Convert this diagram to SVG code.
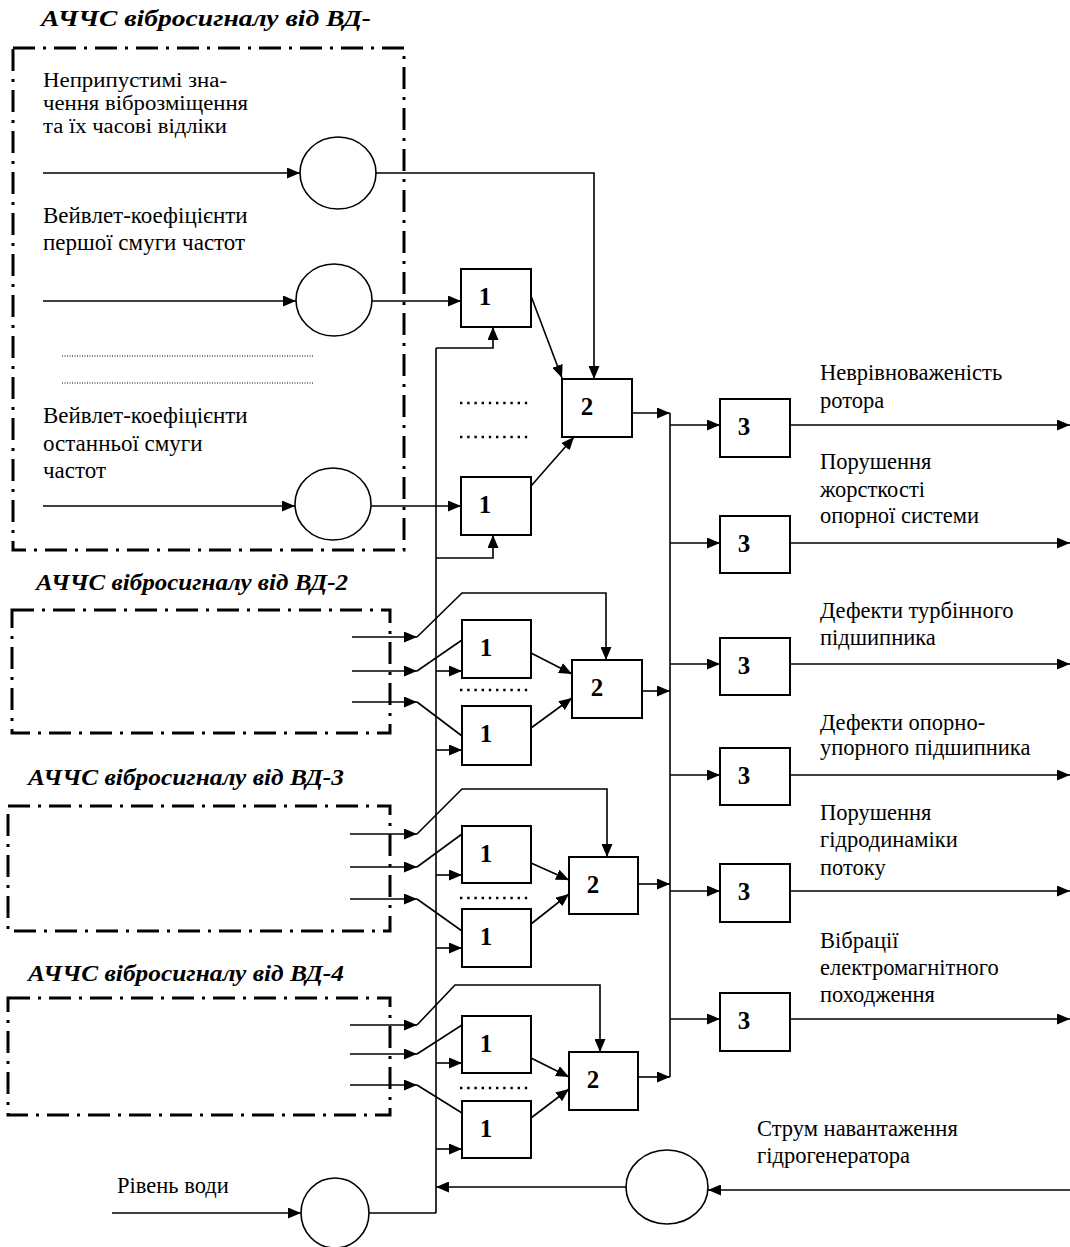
<svg xmlns="http://www.w3.org/2000/svg" width="1070" height="1247" viewBox="0 0 1070 1247">
<style>
.bg{fill:#fff}
.grp{fill:none;stroke:#000;stroke-width:3;stroke-dasharray:22 8 3 8}
.box{fill:#fff;stroke:#000;stroke-width:2}
.circ{fill:#fff;stroke:#000;stroke-width:1.6}
.ln{fill:none;stroke:#000;stroke-width:1.6}
.ar{marker-end:url(#ah)}
.fine{fill:none;stroke:#000;stroke-width:1;stroke-dasharray:1 1.5}
.dots{fill:none;stroke:#000;stroke-width:2.4;stroke-dasharray:2.4 4.8}
.ts{font-family:"Liberation Serif","Times New Roman",serif;font-size:20.8px;fill:#000}
.t{font-family:"Liberation Serif","Times New Roman",serif;font-size:23px;fill:#000}
.tr{font-family:"Liberation Serif","Times New Roman",serif;font-size:22.5px;fill:#000}
.ti{font-family:"Liberation Serif","Times New Roman",serif;font-size:24px;font-weight:bold;font-style:italic;fill:#000}
.num{font-family:"Liberation Serif","Times New Roman",serif;font-size:25px;font-weight:bold;fill:#000;text-anchor:middle}
</style>
<defs>
<marker id="ah" markerUnits="userSpaceOnUse" markerWidth="13" markerHeight="11" refX="13" refY="5.5" orient="auto">
<path d="M0,0 L13,5.5 L0,11 z" fill="#000"/>
</marker>
</defs>
<rect class="bg" x="0" y="0" width="1070" height="1247"/>

<g id="sensor-groups">
<g id="vd1">
<text class="ti" x="41" y="26" textLength="330" lengthAdjust="spacingAndGlyphs">АЧЧС вібросигналу від ВД-</text>
<rect class="grp" x="13" y="48" width="391" height="502"/>
<text class="ts" x="43" y="87" textLength="184" lengthAdjust="spacingAndGlyphs">Неприпустимі зна-</text>
<text class="ts" x="43" y="110" textLength="205" lengthAdjust="spacingAndGlyphs">чення віброзміщення</text>
<text class="ts" x="43" y="133" textLength="184" lengthAdjust="spacingAndGlyphs">та їх часові відліки</text>
<text class="t" x="43" y="223">Вейвлет-коефіцієнти</text>
<text class="t" x="43" y="250">першої смуги частот</text>
<line class="fine" x1="62" y1="356" x2="313" y2="356"/>
<line class="fine" x1="62" y1="383" x2="313" y2="383"/>
<text class="t" x="43" y="423">Вейвлет-коефіцієнти</text>
<text class="t" x="43" y="451">останньої смуги</text>
<text class="t" x="43" y="478">частот</text>
</g>
<g id="vd2">
<text class="ti" x="36" y="590" textLength="312" lengthAdjust="spacingAndGlyphs">АЧЧС вібросигналу від ВД-2</text>
<rect class="grp" x="12" y="610" width="378" height="123"/>
</g>
<g id="vd3">
<text class="ti" x="28" y="785" textLength="316" lengthAdjust="spacingAndGlyphs">АЧЧС вібросигналу від ВД-3</text>
<rect class="grp" x="8" y="806" width="382" height="125"/>
</g>
<g id="vd4">
<text class="ti" x="28" y="981" textLength="316" lengthAdjust="spacingAndGlyphs">АЧЧС вібросигналу від ВД-4</text>
<rect class="grp" x="8" y="998" width="382" height="117"/>
</g>
</g>

<g id="connectors">
<path class="ln ar" d="M43,173 H300"/>
<path class="ln ar" d="M376,173 H594 V379"/>
<path class="ln ar" d="M43,301 H296"/>
<path class="ln ar" d="M372,301 H461"/>
<path class="ln ar" d="M531,296 L562,378"/>
<path class="ln ar" d="M436,348 H493 V327"/>
<path class="ln ar" d="M43,506 H295"/>
<path class="ln ar" d="M371,506 H461"/>
<path class="ln ar" d="M531,486 L574,437"/>
<path class="ln ar" d="M436,558 H493 V535"/>
<path class="ln ar" d="M632,413 H670"/>
<line class="dots" x1="460" y1="403" x2="532" y2="403"/>
<line class="dots" x1="460" y1="437" x2="532" y2="437"/>
<path class="ln" d="M436,348 V1213"/>
<path class="ln" d="M670,413 V1077"/>
<path class="ln ar" d="M352,637 H417"/>
<path class="ln ar" d="M417,637 L462,593 H606 V660"/>
<path class="ln ar" d="M352,671 H417"/>
<path class="ln" d="M417,671 L462,640"/>
<path class="ln ar" d="M352,702 H417"/>
<path class="ln" d="M417,702 L462,736"/>
<path class="ln ar" d="M436,671 H462"/>
<path class="ln ar" d="M436,750 H462"/>
<path class="ln ar" d="M531,653 L572,674"/>
<path class="ln ar" d="M531,728 L572,698"/>
<path class="ln ar" d="M642,691 H670"/>
<line class="dots" x1="460" y1="690" x2="532" y2="690"/>
<path class="ln ar" d="M350,834 H417"/>
<path class="ln ar" d="M417,834 L462,789 H607 V857"/>
<path class="ln ar" d="M350,867 H417"/>
<path class="ln" d="M417,867 L462,834"/>
<path class="ln ar" d="M350,899 H417"/>
<path class="ln" d="M417,899 L462,931"/>
<path class="ln ar" d="M436,875 H462"/>
<path class="ln ar" d="M436,948 H462"/>
<path class="ln ar" d="M531,863 L569,880"/>
<path class="ln ar" d="M531,924 L569,894"/>
<path class="ln ar" d="M638,884 H670"/>
<line class="dots" x1="460" y1="898" x2="532" y2="898"/>
<path class="ln ar" d="M350,1025 H417"/>
<path class="ln ar" d="M417,1025 L455,985 H600 V1052"/>
<path class="ln ar" d="M350,1054 H417"/>
<path class="ln" d="M417,1054 L462,1025"/>
<path class="ln ar" d="M350,1085 H417"/>
<path class="ln" d="M417,1085 L462,1113"/>
<path class="ln ar" d="M436,1063 H462"/>
<path class="ln ar" d="M436,1149 H462"/>
<path class="ln ar" d="M531,1058 L569,1077"/>
<path class="ln ar" d="M531,1118 L569,1089"/>
<path class="ln ar" d="M638,1077 H670"/>
<line class="dots" x1="460" y1="1088" x2="532" y2="1088"/>
<path class="ln ar" d="M670,425 H720"/>
<path class="ln ar" d="M790,425 H1070"/>
<path class="ln ar" d="M670,543 H720"/>
<path class="ln ar" d="M790,543 H1070"/>
<path class="ln ar" d="M670,664 H720"/>
<path class="ln ar" d="M790,664 H1070"/>
<path class="ln ar" d="M670,775 H720"/>
<path class="ln ar" d="M790,775 H1070"/>
<path class="ln ar" d="M670,891 H720"/>
<path class="ln ar" d="M790,891 H1070"/>
<path class="ln ar" d="M670,1019 H720"/>
<path class="ln ar" d="M790,1019 H1070"/>
<path class="ln ar" d="M1070,1190 H708"/>
<path class="ln ar" d="M626,1187 H436"/>
<path class="ln ar" d="M112,1213 H301"/>
<path class="ln" d="M369,1213 H436"/>
</g>

<g id="n-cA"><ellipse class="circ" cx="338" cy="173" rx="38" ry="36"/></g>
<g id="n-cB"><ellipse class="circ" cx="334" cy="300" rx="38" ry="36"/></g>
<g id="n-cC"><ellipse class="circ" cx="333" cy="504" rx="38" ry="36"/></g>
<g id="n-cD"><ellipse class="circ" cx="335" cy="1213" rx="34" ry="35"/></g>
<g id="n-cE"><ellipse class="circ" cx="667" cy="1187" rx="41" ry="37"/></g>

<g id="n-1a"><rect class="box" x="461" y="269" width="70" height="58"/><text class="num" x="485" y="305">1</text></g>
<g id="n-1b"><rect class="box" x="461" y="477" width="70" height="58"/><text class="num" x="485" y="513">1</text></g>
<g id="n-2a"><rect class="box" x="562" y="379" width="70" height="58"/><text class="num" x="587" y="415">2</text></g>

<g id="n-1c"><rect class="box" x="462" y="620" width="69" height="58"/><text class="num" x="486" y="656">1</text></g>
<g id="n-1d"><rect class="box" x="462" y="706" width="69" height="59"/><text class="num" x="486" y="742">1</text></g>
<g id="n-2b"><rect class="box" x="572" y="660" width="70" height="58"/><text class="num" x="597" y="696">2</text></g>

<g id="n-1e"><rect class="box" x="462" y="826" width="69" height="57"/><text class="num" x="486" y="862">1</text></g>
<g id="n-1f"><rect class="box" x="462" y="909" width="69" height="58"/><text class="num" x="486" y="945">1</text></g>
<g id="n-2c"><rect class="box" x="569" y="857" width="69" height="57"/><text class="num" x="593" y="893">2</text></g>

<g id="n-1g"><rect class="box" x="462" y="1016" width="69" height="57"/><text class="num" x="486" y="1052">1</text></g>
<g id="n-1h"><rect class="box" x="462" y="1101" width="69" height="57"/><text class="num" x="486" y="1137">1</text></g>
<g id="n-2d"><rect class="box" x="569" y="1052" width="69" height="58"/><text class="num" x="593" y="1088">2</text></g>

<g id="n-3a"><rect class="box" x="720" y="399" width="70" height="58"/><text class="num" x="744" y="435">3</text></g>
<g id="n-3b"><rect class="box" x="720" y="516" width="70" height="57"/><text class="num" x="744" y="552">3</text></g>
<g id="n-3c"><rect class="box" x="720" y="638" width="70" height="57"/><text class="num" x="744" y="674">3</text></g>
<g id="n-3d"><rect class="box" x="720" y="748" width="70" height="57"/><text class="num" x="744" y="784">3</text></g>
<g id="n-3e"><rect class="box" x="720" y="864" width="70" height="58"/><text class="num" x="744" y="900">3</text></g>
<g id="n-3f"><rect class="box" x="720" y="993" width="70" height="58"/><text class="num" x="744" y="1029">3</text></g>

<g id="labels">
<text class="tr" x="820" y="380">Неврівноваженість</text>
<text class="tr" x="820" y="408">ротора</text>
<text class="tr" x="820" y="469">Порушення</text>
<text class="tr" x="820" y="497">жорсткості</text>
<text class="tr" x="820" y="523">опорної системи</text>
<text class="tr" x="820" y="618">Дефекти турбінного</text>
<text class="tr" x="820" y="645">підшипника</text>
<text class="tr" x="820" y="730">Дефекти опорно-</text>
<text class="tr" x="820" y="755">упорного підшипника</text>
<text class="tr" x="820" y="820">Порушення</text>
<text class="tr" x="820" y="847">гідродинаміки</text>
<text class="tr" x="820" y="875">потоку</text>
<text class="tr" x="820" y="948">Вібрації</text>
<text class="tr" x="820" y="975">електромагнітного</text>
<text class="tr" x="820" y="1002">походження</text>
<text class="tr" x="757" y="1136">Струм навантаження</text>
<text class="tr" x="757" y="1163">гідрогенератора</text>
<text class="tr" x="117" y="1193">Рівень води</text>
</g>
</svg>
